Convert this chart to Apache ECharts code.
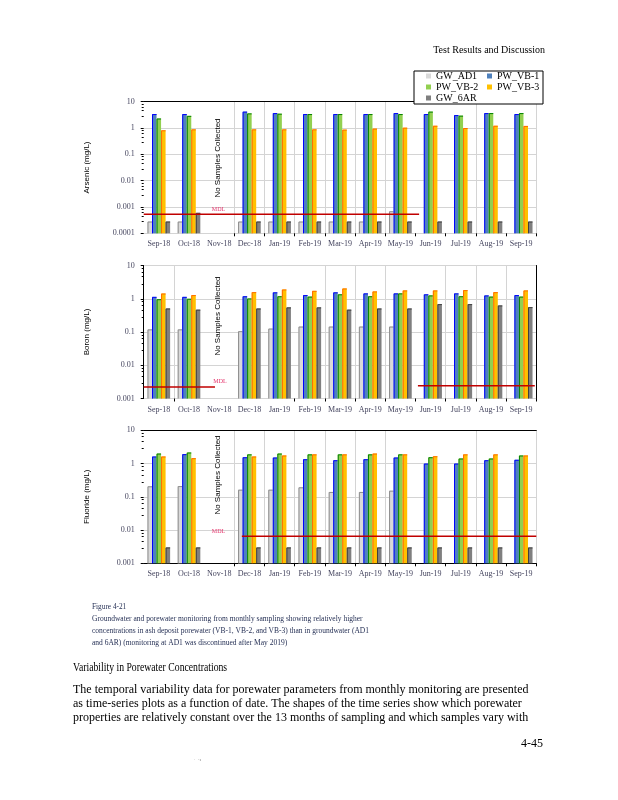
<!DOCTYPE html>
<html><head><meta charset="utf-8">
<script src="https://cdn.jsdelivr.net/npm/echarts@6/dist/echarts.min.js"></script>
<style>html,body{margin:0;padding:0;background:#fff}#c{width:618px;height:800px}</style>
</head><body><div id="c"></div>
<script>
// ---------------- DATA ----------------
const months = ['Sep-18','Oct-18','Nov-18','Dec-18','Jan-19','Feb-19','Mar-19','Apr-19','May-19','Jun-19','Jul-19','Aug-19','Sep-19'];
const seriesNames = ['GW_AD1','PW_VB-1','PW_VB-2','PW_VB-3','GW_6AR'];

// Arsenic (mg/L)
const arsenicAD1 = [0.00028,0.00028,null,0.00028,0.00028,0.00028,0.00028,0.00028,0.00069,null,null,null,null];
const arsenicVB1 = [3.4,3.4,null,4.2,3.7,3.4,3.4,3.4,3.7,3.4,3.1,3.7,3.4];
const arsenicVB2 = [2.3,2.9,null,3.6,3.5,3.4,3.4,3.4,3.4,4.2,2.95,3.7,3.7];
const arsenicVB3 = [0.82,0.89,null,0.89,0.89,0.89,0.87,0.95,1.03,1.22,1.0,1.22,1.2];
const arsenic6AR = [0.00028,0.0006,null,0.00028,0.00028,0.00028,0.00028,0.00028,0.00028,0.00028,0.00028,0.00028,0.00028];
const arsenicMDL = 0.00053;
const arsenicMDLSpans = [[0, 9.12]];
const arsenicTicks = ['0.0001','0.001','0.01','0.1','1','10'];

// Boron (mg/L)
const boronAD1 = [0.12,0.12,null,0.106,0.127,0.146,0.146,0.146,0.146,null,null,null,null];
const boronVB1 = [1.14,1.14,null,1.19,1.56,1.29,1.56,1.45,1.45,1.36,1.45,1.26,1.29];
const boronVB2 = [0.97,1.0,null,1.02,1.19,1.16,1.36,1.19,1.45,1.26,1.19,1.16,1.16];
const boronVB3 = [1.44,1.29,null,1.58,1.9,1.73,2.04,1.66,1.78,1.78,1.82,1.58,1.78];
const boron6AR = [0.51,0.47,null,0.51,0.55,0.55,0.47,0.51,0.51,0.69,0.69,0.63,0.56];
const boronMDL = [0.0022, 0.0024];
const boronMDLSpans = [[0, 2.36], [9.08, 12.95]];
const boronTicks = ['0.001','0.01','0.1','1','10'];

// Fluoride (mg/L)
const fluorideAD1 = [0.207,0.21,null,0.164,0.164,0.193,0.14,0.14,0.153,null,null,null,null];
const fluorideVB1 = [1.63,1.92,null,1.55,1.52,1.35,1.26,1.35,1.52,1.0,1.0,1.26,1.3];
const fluorideVB2 = [2.0,2.15,null,1.89,2.0,1.89,1.89,1.89,1.89,1.55,1.42,1.42,1.75];
const fluorideVB3 = [1.63,1.45,null,1.63,1.75,1.89,1.89,2.0,1.89,1.66,1.89,1.89,1.75];
const fluoride6AR = [0.003,0.003,null,0.003,0.003,0.003,0.003,0.003,0.003,0.003,0.003,0.003,0.003];
const fluorideMDL = 0.0065;
const fluorideMDLSpans = [[3.25, 13]];
const fluorideTicks = ['0.001','0.01','0.1','1','10'];

// ---------------- STYLE ----------------
const slotFill = ['#d9d9d9','#4f81bd','#92d050','#ffc000','#7f7f7f'];
const slotEdge = ['#8c8c8c','#0000ff','#008000','#ff6a00','#3f3f3f'];
const labelColor = '#45455f';
const serif = 'Liberation Serif';
const sans = 'Liberation Sans';

const chart = echarts.init(document.getElementById('c'), null, {renderer:'canvas'});

const grids = [
  {left:143.7, top:101.7, width:392.6, height:131.6},
  {left:143.7, top:265.5, width:392.6, height:133},
  {left:143.7, top:430.3, width:392.6, height:133}
];

function catAxis(gi, showLine, ticks, lines) {
  return {
    type:'category', gridIndex:gi, data:months, boundaryGap:true,
    axisLine:{show:showLine, lineStyle:{color:'#000', width:1}},
    axisTick:{show:true, length:3, interval:(i) => ticks.indexOf(i) >= 0, lineStyle:{color:'#000'}},
    axisLabel:{interval:0, fontFamily:serif, fontSize:8, color:labelColor, margin:7},
    splitLine:{show:true, interval:(i) => lines.indexOf(i) >= 0, lineStyle:{color:'#d4d4d4', width:1}}
  };
}
function lineOnlyX(gi) {
  return {type:'category', gridIndex:gi, data:months, position:'top',
    axisLine:{show:true, lineStyle:{color:'#000', width:1}}, axisTick:{show:false},
    axisLabel:{show:false}, splitLine:{show:false}};
}
function hiddenX(gi) {
  return {type:'value', gridIndex:gi, min:0, max:13, show:false, splitLine:{show:false}};
}
function logAxis(gi, min, max, ticks, name, showLine) {
  const e0 = Math.round(Math.log10(min));
  return {
    type:'log', logBase:10, gridIndex:gi, min:min, max:max,
    name:name, nameLocation:'middle', nameGap:53,
    nameTextStyle:{fontFamily:sans, fontSize:8, color:'#000'},
    axisLine:{show:showLine, lineStyle:{color:'#000', width:1}},
    axisTick:{show:true, length:3, lineStyle:{color:'#000'}},
    minorTick:{show:true, splitNumber:5, length:2, lineStyle:{color:'#000'}},
    axisLabel:{fontFamily:serif, fontSize:8, color:labelColor, margin:9,
      formatter:(v) => ticks[Math.round(Math.log10(v)) - e0] || ''},
    splitLine:{show:true, lineStyle:{color:'#d4d4d4', width:1}}
  };
}

function barSeries(name, slot, values, xi, yi, yMin) {
  return {
    type:'custom', name:name, xAxisIndex:xi, yAxisIndex:yi,
    itemStyle:{color:slotFill[slot]},
    encode:{x:0, y:1},
    data: values.map((v,i) => v == null ? null : [i, v]).filter(d => d),
    renderItem: function (params, api) {
      const c = api.value(0), v = api.value(1);
      const top = api.coord([c, v]);
      const base = api.coord([c, yMin]);
      const band = api.size([1, 1])[0];
      const gw = band * 0.75;
      const w = gw / 5;
      const x0 = top[0] - gw / 2 + slot * w;
      return {type:'group', children:[
        {type:'rect', shape:{x:x0, y:top[1], width:w, height:base[1]-top[1]}, style:{fill:slotFill[slot]}},
        {type:'polyline', shape:{points:[[x0+0.5, base[1]],[x0+0.5, top[1]+0.5],[x0+w, top[1]+0.5]]},
          style:{stroke:slotEdge[slot], lineWidth:1, fill:null}}
      ]};
    }
  };
}
function mdlSeries(xi, yi, span, value) {
  return {type:'line', xAxisIndex:xi, yAxisIndex:yi, symbol:'none', silent:true, z:5,
    data:[[span[0], value],[span[1], value]], lineStyle:{color:'#c00000', width:1.5}};
}

const xAxes = [
  catAxis(0, false, [3,4,5,6,7,8,9,10,11,12], [3,4,5,6,7,8,11]), // 0
  hiddenX(0),                                                    // 1
  lineOnlyX(0),                                                  // 2
  catAxis(1, false, [1,5,6,7,8,9,10,11,12], [1,6,7,8,10,11,12]), // 3
  hiddenX(1),                                                    // 4
  catAxis(2, true, [3,4,5,6,7,8,9,10,11,12], [3,4,5,6,7,8,11]),  // 5
  hiddenX(2),                                                    // 6
  lineOnlyX(2)                                                   // 7
];

const yAxes = [
  logAxis(0, 0.0001, 10, arsenicTicks, 'Arsenic (mg/L)', false),
  logAxis(1, 0.001, 10, boronTicks, 'Boron (mg/L)', true),
  {type:'log', logBase:10, gridIndex:1, min:0.001, max:10, position:'right',
    axisLine:{show:true, lineStyle:{color:'#000', width:1}}, axisTick:{show:false},
    axisLabel:{show:false}, splitLine:{show:false}},
  logAxis(2, 0.001, 10, fluorideTicks, 'Fluoride (mg/L)', false)
];

const groups = [
  {xi:0, yi:0, min:0.0001, vals:[arsenicAD1, arsenicVB1, arsenicVB2, arsenicVB3, arsenic6AR]},
  {xi:3, yi:1, min:0.001, vals:[boronAD1, boronVB1, boronVB2, boronVB3, boron6AR]},
  {xi:5, yi:3, min:0.001, vals:[fluorideAD1, fluorideVB1, fluorideVB2, fluorideVB3, fluoride6AR]}
];
const series = [];
groups.forEach(g => g.vals.forEach((vals, s) => series.push(barSeries(seriesNames[s], s, vals, g.xi, g.yi, g.min))));
arsenicMDLSpans.forEach(sp => series.push(mdlSeries(1, 0, sp, arsenicMDL)));
boronMDLSpans.forEach((sp, k) => series.push(mdlSeries(4, 1, sp, boronMDL[k])));
fluorideMDLSpans.forEach(sp => series.push(mdlSeries(6, 3, sp, fluorideMDL)));

function txt(x, y, text, size, opts) {
  opts = opts || {};
  return {type:'text', x:x, y:y, rotation:opts.rot || 0, scaleX:opts.sx || 1, silent:true, z:100,
    style:{text:text, fontFamily:opts.font || serif, fontSize:size, fill:opts.color || '#000',
      textAlign:opts.align || 'left', verticalAlign:'middle', textVerticalAlign:'middle'}};
}

const capColor = '#1f2a50';
const graphics = [
  txt(545, 50, 'Test Results and Discussion', 10, {align:'right'}),
  txt(218, 158, 'No Samples Collected', 8, {font:sans, rot:Math.PI/2, align:'center'}),
  txt(218, 316, 'No Samples Collected', 8, {font:sans, rot:Math.PI/2, align:'center'}),
  txt(218, 475, 'No Samples Collected', 8, {font:sans, rot:Math.PI/2, align:'center'}),
  txt(218.5, 209, 'MDL', 6, {color:'#e5336b', align:'center'}),
  txt(220, 381, 'MDL', 6, {color:'#e5336b', align:'center'}),
  txt(218.5, 531, 'MDL', 6, {color:'#e5336b', align:'center'}),
  txt(92, 607, 'Figure 4-21', 7.3, {color:capColor}),
  txt(92, 619, 'Groundwater and porewater monitoring from monthly sampling showing relatively higher', 7.5, {color:capColor}),
  txt(92, 631, 'concentrations in ash deposit porewater (VB-1, VB-2, and VB-3) than in groundwater (AD1', 7.5, {color:capColor}),
  txt(92, 643, 'and 6AR) (monitoring at AD1 was discontinued after May 2019)', 7.5, {color:capColor}),
  txt(73, 668, 'Variability in Porewater Concentrations', 12, {sx:0.81}),
  txt(73, 690, 'The temporal variability data for porewater parameters from monthly monitoring are presented', 12),
  txt(73, 704, 'as time-series plots as a function of date. The shapes of the time series show which porewater', 12),
  txt(73, 718, 'properties are relatively constant over the 13 months of sampling and which samples vary with', 12),
  txt(543, 744, '4-45', 12, {align:'right'}),
  txt(194, 760, '\u02d1  \u00b7\u0131', 5, {color:'#777'})
];

chart.setOption({
  backgroundColor:'#fff',
  animation:false,
  grid: grids,
  xAxis: xAxes,
  yAxis: yAxes,
  legend: {
    data: seriesNames, left:414, top:71, width:140, orient:'horizontal',
    icon:'rect', itemWidth:5, itemHeight:5, itemGap:1,
    padding:[0, 3, 1, 12], backgroundColor:'#fff', borderColor:'#000', borderWidth:1,
    selectedMode:false, itemStyle:{borderWidth:0},
    formatter:(name) => (name === 'PW_VB-1' || name === 'PW_VB-3') ? '{b|' + name + '}' : '{a|' + name + '}',
    textStyle:{fontFamily:serif, fontSize:10, color:'#000',
      rich:{
        a:{width:50, fontFamily:serif, fontSize:10, color:'#000', lineHeight:10.8},
        b:{width:43, fontFamily:serif, fontSize:10, color:'#000', lineHeight:10.8}
      }}
  },
  series: series,
  graphic: graphics
});
</script></body></html>
